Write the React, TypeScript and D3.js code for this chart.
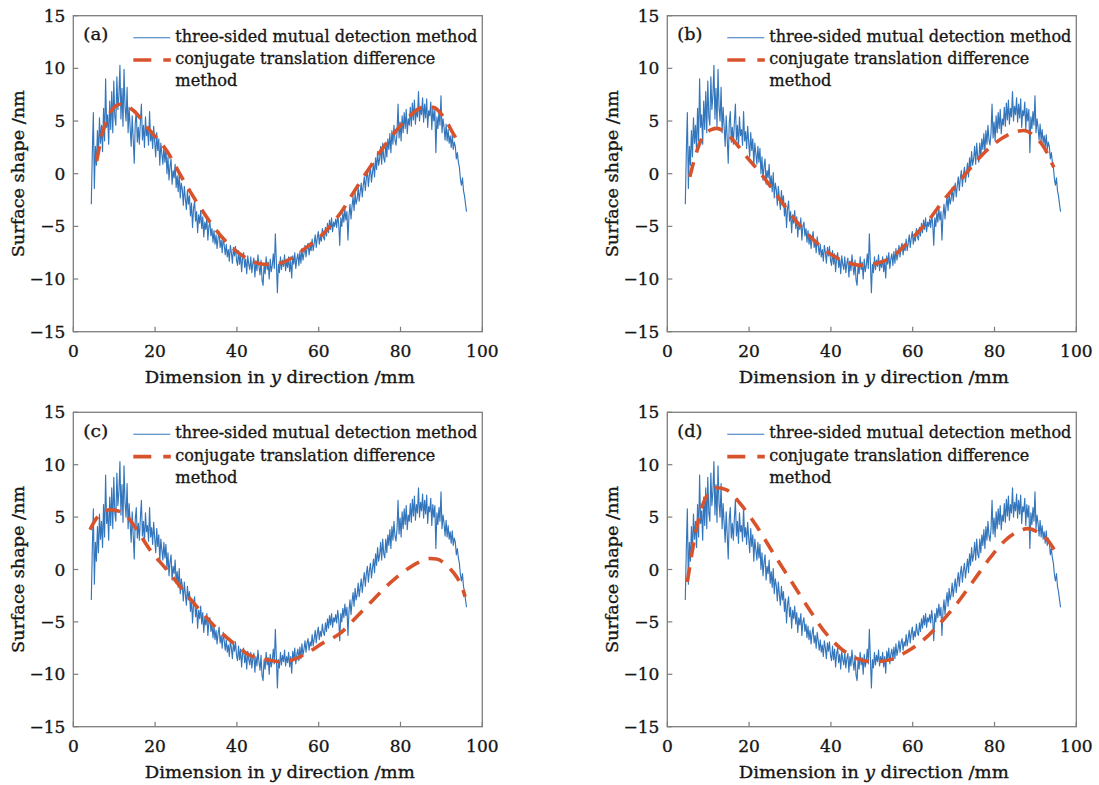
import React from 'react';
import * as d3 from 'd3';

// Sampling range of the three-sided mutual detection profile (mm)
const Y_START = 4.4;
const Y_END = 96.15;

// Surface shape measured by the three-sided mutual detection method (nm)
const threeSided = [
  -2.9, 2.0, 5.8, -1.4, 2.6, 0.8, 4.1, 1.6, 5.3, 2.9, 4.6, 2.1,
  6.2, 3.1, 9.0, 4.4, 5.6, 2.8, 6.9, 4.2, 7.8, 3.9, 8.8, 5.4,
  4.6, 9.2, 6.1, 7.4, 10.3, 5.2, 8.1, 4.5, 9.9, 6.3, 5.0, 8.2,
  3.9, 6.3, 4.4, 2.6, 5.5, 3.3, 1.0, 4.8, 5.9, 3.0, 4.4, 2.8,
  4.9, 6.6, 3.2, 4.6, 2.5, 5.4, 3.6, 4.2, 2.7, 5.9, 3.1, 4.0,
  2.4, 4.5, 3.0, 1.6, 3.9, 2.2, 3.3, 0.8, 2.9, 1.9, 0.9, 2.6,
  1.1, 2.4, 0.0, 1.6, -0.6, 0.7, 1.4, -1.0, 0.3, -0.4, 0.9, -1.3,
  -0.2, -1.7, 0.1, -2.3, -0.9, -1.5, -3.0, -1.2, -2.4, -3.4, -1.6, -2.9,
  -2.1, -4.0, -2.8, -5.1, -3.3, -2.6, -4.5, -3.6, -5.6, -3.9, -4.7, -3.5,
  -5.2, -4.1, -6.0, -4.6, -5.3, -4.2, -6.3, -5.0, -4.6, -5.9, -5.2, -6.5,
  -5.4, -6.7, -5.8, -7.1, -6.1, -5.5, -7.0, -6.3, -7.5, -6.0, -6.8, -7.7,
  -6.7, -7.9, -7.2, -8.3, -6.8, -7.5, -8.5, -7.0, -7.8, -6.9, -8.2, -8.7,
  -7.3, -8.6, -7.6, -9.3, -8.0, -7.5, -8.9, -8.1, -9.5, -7.8, -8.6, -9.1,
  -7.9, -9.4, -8.5, -8.0, -9.8, -8.3, -9.2, -7.7, -8.8, -9.6, -8.2, -10.1,
  -10.6, -8.6, -9.5, -7.9, -9.1, -8.4, -10.0, -8.1, -9.3, -8.7, -7.6, -9.0,
  -5.7, -8.4, -11.3, -8.6, -9.4, -7.9, -9.1, -8.2, -8.8, -7.7, -9.2, -8.3,
  -8.9, -7.9, -9.3, -8.3, -9.9, -7.8, -8.6, -7.5, -9.0, -8.1, -7.6, -8.7,
  -7.4, -8.5, -7.1, -8.2, -7.6, -6.8, -7.9, -7.0, -6.6, -7.7, -6.9, -7.3,
  -6.2, -7.3, -6.6, -5.8, -7.0, -6.1, -5.5, -6.7, -5.9, -6.4, -5.2, -6.0,
  -6.3, -5.1, -5.9, -4.7, -5.6, -4.4, -5.3, -4.2, -5.5, -4.6, -5.0, -4.3,
  -5.1, -3.9, -4.8, -6.8, -4.2, -5.0, -3.7, -4.6, -3.3, -4.4, -3.6, -6.3,
  -4.0, -2.9, -4.3, -3.1, -2.2, -3.5, -1.8, -2.9, -2.4, -1.3, -2.6, -1.7,
  -0.9, -2.2, -1.1, -0.3, -1.6, -0.4, 0.3, -1.2, -0.1, 0.6, -0.8, 0.1,
  1.0, -0.3, 1.5, 0.4, 2.1, 0.8, 1.4, 2.6, 0.9, 2.9, 1.5, 1.1,
  2.9, 1.6, 3.3, 2.3, 3.8, 2.0, 4.1, 2.8, 4.6, 3.2, 2.7, 3.9,
  6.6, 3.4, 4.9, 3.1, 5.5, 3.9, 5.8, 4.3, 6.1, 3.8, 5.2, 4.6,
  6.3, 4.5, 6.7, 5.1, 7.0, 4.7, 6.2, 5.4, 7.8, 5.0, 6.4, 5.6,
  7.2, 4.9, 6.6, 5.3, 7.1, 4.4, 6.0, 5.5, 6.8, 4.2, 6.2, 5.0,
  6.1, 2.0, 5.4, 4.3, 5.9, 4.6, 7.4, 3.9, 5.2, 4.4, 3.2, 4.7,
  3.1, 4.2, 2.9, 3.6, 2.5, 3.7, 2.3, 3.0, 2.6, 1.4, 2.0, 1.1,
  0.6, -0.5, -1.1, -0.4, -1.6, -2.1, -2.9, -3.6,
];

// Conjugate translation difference method, four cases: position (mm) and shape (nm)
const ctdA_y = [5.7, 7.3, 9.2, 11.4, 14.7, 18.3, 22.8, 26.9, 31, 35, 39.1, 43.2, 46.5, 50.5, 53.8, 57, 61.1, 65.2, 69.3, 72.5, 75.8, 79, 82.3, 85.6, 88, 90.5, 92.9, 94.5];
const ctdA_s = [1.2, 4.1, 5.9, 6.6, 6.0, 4.3, 2.2, -0.6, -3.2, -5.4, -7.1, -8.2, -8.6, -8.5, -7.9, -7.0, -5.7, -3.8, -1.3, 0.6, 2.5, 4.1, 5.5, 6.3, 6.3, 5.4, 3.8, 2.7];

const ctdB_y = [5.5, 6.8, 8.4, 10.9, 12.1, 15.3, 19.4, 23.5, 27.6, 31.7, 35.8, 39.8, 43.9, 47.2, 51.3, 55.3, 59.4, 63.5, 67.6, 71.7, 75.8, 79.8, 83.9, 87.2, 89.6, 92.1, 94.5];
const ctdB_s = [-0.3, 1.6, 3.3, 4.2, 4.3, 3.5, 1.6, -0.3, -2.5, -4.6, -6.3, -7.6, -8.4, -8.7, -8.5, -7.8, -6.3, -4.6, -2.5, -0.6, 1.3, 2.8, 3.8, 4.1, 3.6, 2.5, 0.6];

const ctdC_y = [4.1, 5.7, 9, 12.2, 15.5, 18.7, 22.8, 26.9, 31, 35, 39.1, 43.2, 47.3, 50.5, 53.8, 57, 61.1, 65.2, 69.3, 73.3, 77.4, 81.5, 84.8, 87.2, 88.8, 91.3, 93.7, 95, 95.8];
const ctdC_s = [3.8, 4.9, 5.7, 5.4, 3.8, 1.9, 0, -2.0, -3.9, -5.6, -7.0, -8.2, -8.6, -8.8, -8.6, -8.0, -7.0, -6.1, -4.5, -2.9, -1.3, 0, 0.75, 1.05, 1.0, 0.4, -0.7, -1.6, -2.6];

const ctdD_y = [4.9, 6, 7.6, 9.6, 12.1, 14.5, 17.8, 21.9, 26, 30.1, 34.2, 38.2, 42.3, 46.4, 50.5, 54.6, 58.7, 62.7, 66.8, 70.9, 75, 79.1, 82.4, 85.6, 88.1, 90.5, 93, 94.6];
const ctdD_s = [-1.2, 1.5, 4.7, 7.0, 7.8, 7.6, 6.3, 4.1, 1.5, -1.0, -3.5, -5.8, -7.5, -8.5, -8.8, -8.6, -7.8, -6.7, -5.1, -3.2, -1.0, 1.2, 2.7, 3.6, 3.9, 3.6, 2.8, 1.9];

const xTicks = [0, 20, 40, 60, 80, 100];
const yTicks = [-15, -10, -5, 0, 5, 10, 15];
const panelLabels = ['(a)', '(b)', '(c)', '(d)'];
const legendLabels = ['three-sided mutual detection method', 'conjugate translation difference', 'method'];

const BLUE = '#3476bc';
const RED = '#d8532c';
const FRAME = '#7d7d7d';
const INK = '#161616';
const FONT = '"DejaVu Serif", "Liberation Serif", serif';

type Pt = [number, number];

const step = (Y_END - Y_START) / (threeSided.length - 1);
const bluePts: Pt[] = threeSided.map((v, i) => [Y_START + i * step, v]);
const zipPts = (xs: number[], vs: number[]): Pt[] => xs.map((x, i) => [x, vs[i]]);
const redSets: Pt[][] = [
  zipPts(ctdA_y, ctdA_s),
  zipPts(ctdB_y, ctdB_s),
  zipPts(ctdC_y, ctdC_s),
  zipPts(ctdD_y, ctdD_s),
];

interface PanelProps {
  left: number;
  top: number;
  width: number;
  height: number;
  label: string;
  red: Pt[];
}

function Panel({ left, top, width, height, label, red }: PanelProps) {
  const x = d3.scaleLinear().domain([0, 100]).range([0, width]);
  const y = d3.scaleLinear().domain([-15, 15]).range([height, 0]);
  const blueLine = d3.line<Pt>().x((d) => x(d[0])).y((d) => y(d[1]));
  const redLine = d3
    .line<Pt>()
    .x((d) => x(d[0]))
    .y((d) => y(d[1]))
    .curve(d3.curveMonotoneX);
  const tickLen = 5;
  const fs = 17;
  const textProps = { fontSize: fs, fill: INK, stroke: INK, strokeWidth: 0.35, fontFamily: FONT };
  return (
    <g transform={`translate(${left},${top})`}>
      <path d={blueLine(bluePts) || ''} fill="none" stroke={BLUE} strokeWidth={1.15} strokeLinejoin="round" />
      <path d={redLine(red) || ''} fill="none" stroke={RED} strokeWidth={3.6} strokeDasharray="15 10" />
      <rect x={0} y={0} width={width} height={height} fill="none" stroke={FRAME} strokeWidth={1.3} />
      {xTicks.map((t) => (
        <g key={`x${t}`}>
          <line x1={x(t)} x2={x(t)} y1={height} y2={height - tickLen} stroke={FRAME} strokeWidth={1.2} />
          <text x={x(t)} y={height + 25} textAnchor="middle" {...textProps}>
            {t}
          </text>
        </g>
      ))}
      {yTicks.map((t) => (
        <g key={`y${t}`}>
          <line x1={0} x2={tickLen} y1={y(t)} y2={y(t)} stroke={FRAME} strokeWidth={1.2} />
          <text x={-8} y={y(t)} dy="0.36em" textAnchor="end" {...textProps}>
            {t < 0 ? `\u2212${Math.abs(t)}` : t}
          </text>
        </g>
      ))}
      <text x={width / 2 + 2} y={height + 51} textAnchor="middle" {...textProps} textLength={270} lengthAdjust="spacingAndGlyphs">
        Dimension in <tspan fontStyle="italic">y</tspan> direction /mm
      </text>
      <text
        transform={`translate(${-55},${height / 2}) rotate(-90)`}
        textAnchor="middle"
        dy="0.36em"
        {...textProps}
        textLength={167}
        lengthAdjust="spacingAndGlyphs"
      >
        Surface shape /nm
      </text>
      <text x={10} y={24.5} {...textProps} textLength={25} lengthAdjust="spacingAndGlyphs">
        {label}
      </text>
      <line x1={60} x2={97} y1={22} y2={22} stroke={BLUE} strokeWidth={1.15} />
      <line x1={60} x2={97.5} y1={44.3} y2={44.3} stroke={RED} strokeWidth={3.6} strokeDasharray="18 12" />
      <text x={102} y={26} {...textProps} textLength={302} lengthAdjust="spacingAndGlyphs">
        {legendLabels[0]}
      </text>
      <text x={102} y={48.3} {...textProps} textLength={260} lengthAdjust="spacingAndGlyphs">
        {legendLabels[1]}
      </text>
      <text x={102} y={70.3} {...textProps} textLength={62} lengthAdjust="spacingAndGlyphs">
        {legendLabels[2]}
      </text>
    </g>
  );
}

export default function App() {
  const W = 1099;
  const H = 785;
  const lefts = [73.3, 667.3];
  const tops = [15.7, 412.3];
  const heights = [316, 314.4];
  return (
    <svg width={W} height={H} style={{ position: 'absolute', left: 0, top: 0, background: '#fff' }}>
      <rect x={0} y={0} width={W} height={H} fill="#fff" />
      {panelLabels.map((lab, i) => (
        <Panel
          key={lab}
          left={lefts[i % 2]}
          top={tops[Math.floor(i / 2)]}
          width={409}
          height={heights[Math.floor(i / 2)]}
          label={lab}
          red={redSets[i]}
        />
      ))}
    </svg>
  );
}
